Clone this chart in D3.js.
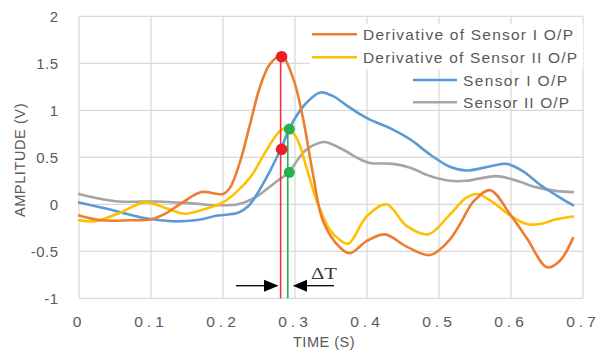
<!DOCTYPE html>
<html><head><meta charset="utf-8">
<script src="https://cdn.jsdelivr.net/npm/d3@7"></script>
<style>body{margin:0;background:#fff;} svg{display:block;}</style>
</head><body>
<script>
// ---- data ----
const xTicks = [0, 0.1, 0.2, 0.3, 0.4, 0.5, 0.6, 0.7];
const xTickLabels = ["0", "0.1", "0.2", "0.3", "0.4", "0.5", "0.6", "0.7"];
const yTicks = [-1, -0.5, 0, 0.5, 1, 1.5, 2];
const yTickLabels = ["-1", "-0.5", "0", "0.5", "1", "1.5", "2"];
const seriesNames = ["Derivative of Sensor I O/P", "Derivative of Sensor II O/P", "Sensor I O/P", "Sensor II O/P"];
const seriesColors = ["#ED7D31", "#FFC000", "#5B9BD5", "#A5A5A5"];

const derivSensor1 = [[0,-0.12],[0.03,-0.17],[0.07,-0.17],[0.1,-0.16],[0.12,-0.10],[0.14,0.0],[0.17,0.13],[0.2,0.11],[0.21,0.18],[0.224,0.46],[0.2375,0.85],[0.251,1.24],[0.265,1.49],[0.281,1.58],[0.297,1.35],[0.311,0.92],[0.325,0.32],[0.339,-0.18],[0.3625,-0.46],[0.376,-0.52],[0.4,-0.39],[0.425,-0.32],[0.455,-0.45],[0.4875,-0.54],[0.515,-0.375],[0.53,-0.2],[0.548,0.03],[0.571,0.15],[0.599,-0.11],[0.622,-0.36],[0.65,-0.67],[0.668,-0.60],[0.686,-0.36]];
const derivSensor2 = [[0,-0.17],[0.022,-0.18],[0.054,-0.10],[0.092,0.02],[0.124,-0.05],[0.147,-0.10],[0.175,-0.05],[0.2,0.02],[0.22,0.14],[0.24,0.31],[0.26,0.57],[0.279,0.78],[0.289,0.81],[0.302,0.71],[0.316,0.39],[0.33,0.04],[0.349,-0.28],[0.3625,-0.38],[0.374,-0.42],[0.4,-0.125],[0.427,0.0],[0.455,-0.23],[0.485,-0.32],[0.515,-0.11],[0.538,0.07],[0.553,0.11],[0.575,0.02],[0.599,-0.12],[0.622,-0.21],[0.64,-0.21],[0.663,-0.16],[0.686,-0.13]];
const sensor1 = [[0,0.02],[0.04,-0.05],[0.087,-0.14],[0.13,-0.18],[0.161,-0.17],[0.193,-0.12],[0.221,-0.09],[0.235,-0.02],[0.244,0.07],[0.263,0.32],[0.28,0.585],[0.292,0.80],[0.302,0.94],[0.316,1.08],[0.335,1.19],[0.353,1.15],[0.372,1.05],[0.39,0.96],[0.404,0.90],[0.432,0.81],[0.46,0.69],[0.4875,0.53],[0.515,0.40],[0.538,0.36],[0.575,0.41],[0.594,0.43],[0.617,0.35],[0.64,0.21],[0.664,0.09],[0.686,-0.01]];
const sensor2 = [[0,0.11],[0.022,0.07],[0.054,0.03],[0.11,0.03],[0.156,0.01],[0.193,-0.01],[0.221,0.0],[0.244,0.07],[0.272,0.23],[0.291,0.34],[0.314,0.57],[0.337,0.66],[0.344,0.66],[0.367,0.58],[0.39,0.48],[0.404,0.44],[0.436,0.43],[0.46,0.39],[0.4875,0.30],[0.515,0.25],[0.538,0.25],[0.58,0.30],[0.608,0.25],[0.636,0.18],[0.664,0.14],[0.686,0.13]];
const allSeries = [derivSensor1, derivSensor2, sensor1, sensor2];

const redMarkerT = 0.28, redDots = [1.57, 0.585];
const greenMarkerT = 0.29, greenDots = [0.80, 0.34];

// ---- layout ----
const W = 599, H = 352;
const svg = d3.select("body").append("svg").attr("width", W).attr("height", H);
const x = d3.scaleLinear().domain([0, 0.7]).range([79, 583]);
const y = d3.scaleLinear().domain([-1, 2]).range([298.3, 16.3]);
const font = "'Liberation Sans', Arial, sans-serif";
const txt = "#595959";

// gridlines
svg.append("g").selectAll("line").data(yTicks).join("line")
  .attr("x1", x(0)).attr("x2", x(0.7)).attr("y1", d => y(d)).attr("y2", d => y(d))
  .attr("stroke", "#D9D9D9").attr("stroke-width", 1.2);
svg.append("g").selectAll("line").data(xTicks).join("line")
  .attr("y1", y(-1)).attr("y2", y(2)).attr("x1", d => x(d)).attr("x2", d => x(d))
  .attr("stroke", "#D9D9D9").attr("stroke-width", 1.2);

// tick labels
svg.append("g").selectAll("text").data(yTicks).join("text")
  .attr("x", 58.5).attr("y", d => y(d)).attr("dy", "0.36em")
  .attr("text-anchor", "end").attr("font-family", font).attr("font-size", 15)
  .attr("letter-spacing", "0.5px").attr("fill", txt)
  .text((d, i) => yTickLabels[i]);
svg.append("g").selectAll("text").data(xTicks).join("text")
  .attr("x", d => x(d)).attr("y", 327)
  .attr("text-anchor", "middle").attr("font-family", font).attr("font-size", 15.5)
  .attr("letter-spacing", "4px").attr("fill", txt)
  .text((d, i) => xTickLabels[i]);

// axis titles
svg.append("text").attr("x", 324).attr("y", 347).attr("text-anchor", "middle")
  .attr("font-family", font).attr("font-size", 14.5).attr("letter-spacing", "0.5px")
  .attr("fill", txt).text("TIME (S)");
svg.append("text").attr("transform", "translate(25,160) rotate(-90)").attr("text-anchor", "middle")
  .attr("font-family", font).attr("font-size", 14.5).attr("letter-spacing", "0.6px")
  .attr("fill", txt).text("AMPLITUDE (V)");

// series
const line = d3.line().x(d => x(d[0])).y(d => y(d[1])).curve(d3.curveCatmullRom.alpha(0.5));
[3, 2, 1, 0].forEach(i => {
  svg.append("path").datum(allSeries[i]).attr("d", line)
    .attr("fill", "none").attr("stroke", seriesColors[i]).attr("stroke-width", 2.6)
    .attr("stroke-linejoin", "round").attr("stroke-linecap", "round");
});

// marker lines and dots
svg.append("line").attr("x1", x(redMarkerT)).attr("x2", x(redMarkerT))
  .attr("y1", y(redDots[0])).attr("y2", y(-1)).attr("stroke", "#F0303A").attr("stroke-width", 1.6);
svg.append("line").attr("x1", x(greenMarkerT)).attr("x2", x(greenMarkerT))
  .attr("y1", y(greenDots[0])).attr("y2", y(-1)).attr("stroke", "#22B14C").attr("stroke-width", 1.6);
svg.append("g").selectAll("circle").data(redDots).join("circle")
  .attr("cx", x(redMarkerT) + 1).attr("cy", d => y(d)).attr("r", 5.8).attr("fill", "#EE1C25");
svg.append("g").selectAll("circle").data(greenDots).join("circle")
  .attr("cx", x(greenMarkerT) + 1.5).attr("cy", d => y(d)).attr("r", 5.5).attr("fill", "#22B14C");

// delta T arrows
const ay = 285.7;
svg.append("line").attr("x1", 236).attr("x2", 266).attr("y1", ay).attr("y2", ay).attr("stroke", "#000").attr("stroke-width", 1.3);
svg.append("path").attr("d", `M${x(redMarkerT)-2},${ay} L264,${ay-6} L264,${ay+6} Z`).attr("fill", "#000");
svg.append("line").attr("x1", 305).attr("x2", 334).attr("y1", ay).attr("y2", ay).attr("stroke", "#000").attr("stroke-width", 1.3);
svg.append("path").attr("d", `M${x(greenMarkerT)+5},${ay} L307,${ay-6} L307,${ay+6} Z`).attr("fill", "#000");
svg.append("text").attr("x", 311).attr("y", 279).attr("font-family", "'Liberation Serif','DejaVu Serif',serif")
  .attr("font-size", 17).attr("fill", "#3a3a3a").attr("textLength", 26).attr("lengthAdjust", "spacingAndGlyphs").text("ΔT");

// legend
svg.append("rect").attr("x", 310).attr("y", 24).attr("width", 273).attr("height", 45).attr("fill", "#fff");
const legRows = [
  {y: 34.3, x1: 312, x2: 357, tx: 363, tl: 210},
  {y: 57.3, x1: 312, x2: 357, tx: 363, tl: 214},
  {y: 80, x1: 413, x2: 457, tx: 463, tl: 104},
  {y: 102.3, x1: 413, x2: 457, tx: 463, tl: 106}
];
legRows.forEach((r, i) => {
  svg.append("line").attr("x1", r.x1).attr("x2", r.x2).attr("y1", r.y).attr("y2", r.y)
    .attr("stroke", seriesColors[i]).attr("stroke-width", 2.6);
  svg.append("text").attr("x", r.tx).attr("y", r.y).attr("dy", "0.36em")
    .attr("font-family", font).attr("font-size", 15.5).attr("fill", txt)
    .attr("textLength", r.tl).attr("lengthAdjust", "spacing")
    .text(seriesNames[i]);
});
</script>
</body></html>
